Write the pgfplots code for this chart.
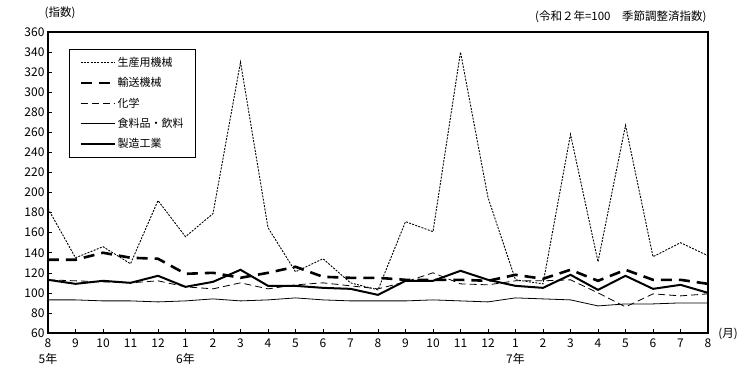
\documentclass[border=0pt]{standalone}
\usepackage{fontspec}
\setmainfont{Noto Sans CJK JP}
\usepackage{pgfplots}
\pgfplotsset{compat=1.18}

\pgfplotstableread{
i seisan yuso kagaku shoku seizo
0 184 133 113 93 113
1 135 133 112 93 109
2 146 140 111 92 112
3 129 135 110 92 110
4 192 134 112 91 117
5 156 119 106 92 106
6 179 120 104 94 111
7 330 115 110 92 123
8 165 120 104 93 107
9 121 126 108 95 107
10 134 116 110 93 105
11 110 115 107 92 104
12 103 115 104 92 98
13 171 113 111 92 112
14 161 113 120 93 112
15 340 113 109 92 122
16 195 112 108 91 113
17 113 118 112 95 107
18 109 114 112 94 105
19 258 123 113 93 118
20 131 112 100 87 103
21 267 123 86 89 117
22 136 113 99 89 104
23 150 113 97 90 108
24 137 109 99 90 100
}\datatable

\begin{document}
\begin{tikzpicture}[font=\fontsize{11.5}{13}\selectfont]
\path[use as bounding box] (-48pt,-45pt) rectangle (698pt,333pt);
\begin{axis}[
  at={(0pt,0pt)}, anchor=south west,
  width=660pt, height=301pt, scale only axis,
  xmin=0, xmax=24, ymin=60, ymax=360,
  ytick={60,80,...,360},
  xtick={0,...,24},
  xticklabels={{8\\5年},9,10,11,12,{1\\6年},2,3,4,5,6,7,8,9,10,11,12,{1\\7年},2,3,4,5,6,7,8},
  xticklabel style={align=center, font=\fontsize{12}{16}\selectfont, yshift=-2pt},
  yticklabel style={font=\fontsize{12}{13}\selectfont},
  /pgf/number format/assume math mode=true,
  tick align=inside, tick pos=left,
  major tick length=4pt,
  tick style={black, line width=0.6pt},
  axis line style={line width=1.2pt},
  legend cell align=left,
  legend style={at={(0.032,0.944)}, anchor=north west, draw=black, line width=0.8pt,
    inner xsep=10pt, inner ysep=6pt, row sep=5.5pt,
    nodes={inner xsep=1.5pt, inner ysep=2pt, font=\fontsize{11}{13}\selectfont}},
  legend image code/.code={\draw[#1] (0pt,0pt) -- (34pt,0pt);},
]
\addplot[black, line width=0.9pt, dash pattern=on 2pt off 1.3pt] table[x=i,y=seisan] {\datatable};
\addlegendentry{生産用機械}
\addplot[black, line width=2.6pt, dash pattern=on 11pt off 7pt] table[x=i,y=yuso] {\datatable};
\addlegendentry{輸送機械}
\addplot[black, line width=0.8pt, dash pattern=on 7pt off 4pt] table[x=i,y=kagaku] {\datatable};
\addlegendentry{化学}
\addplot[black, line width=0.8pt] table[x=i,y=shoku] {\datatable};
\addlegendentry{食料品・飲料}
\addplot[black, line width=2pt] table[x=i,y=seizo] {\datatable};
\addlegendentry{製造工業}
\end{axis}
\node at (12pt,320pt) {(指数)};
\node[anchor=east] at (662pt,316pt) {(令和２年=100　季節調整済指数)};
\node at (680pt,-1pt) {(月)};
\end{tikzpicture}
\end{document}
